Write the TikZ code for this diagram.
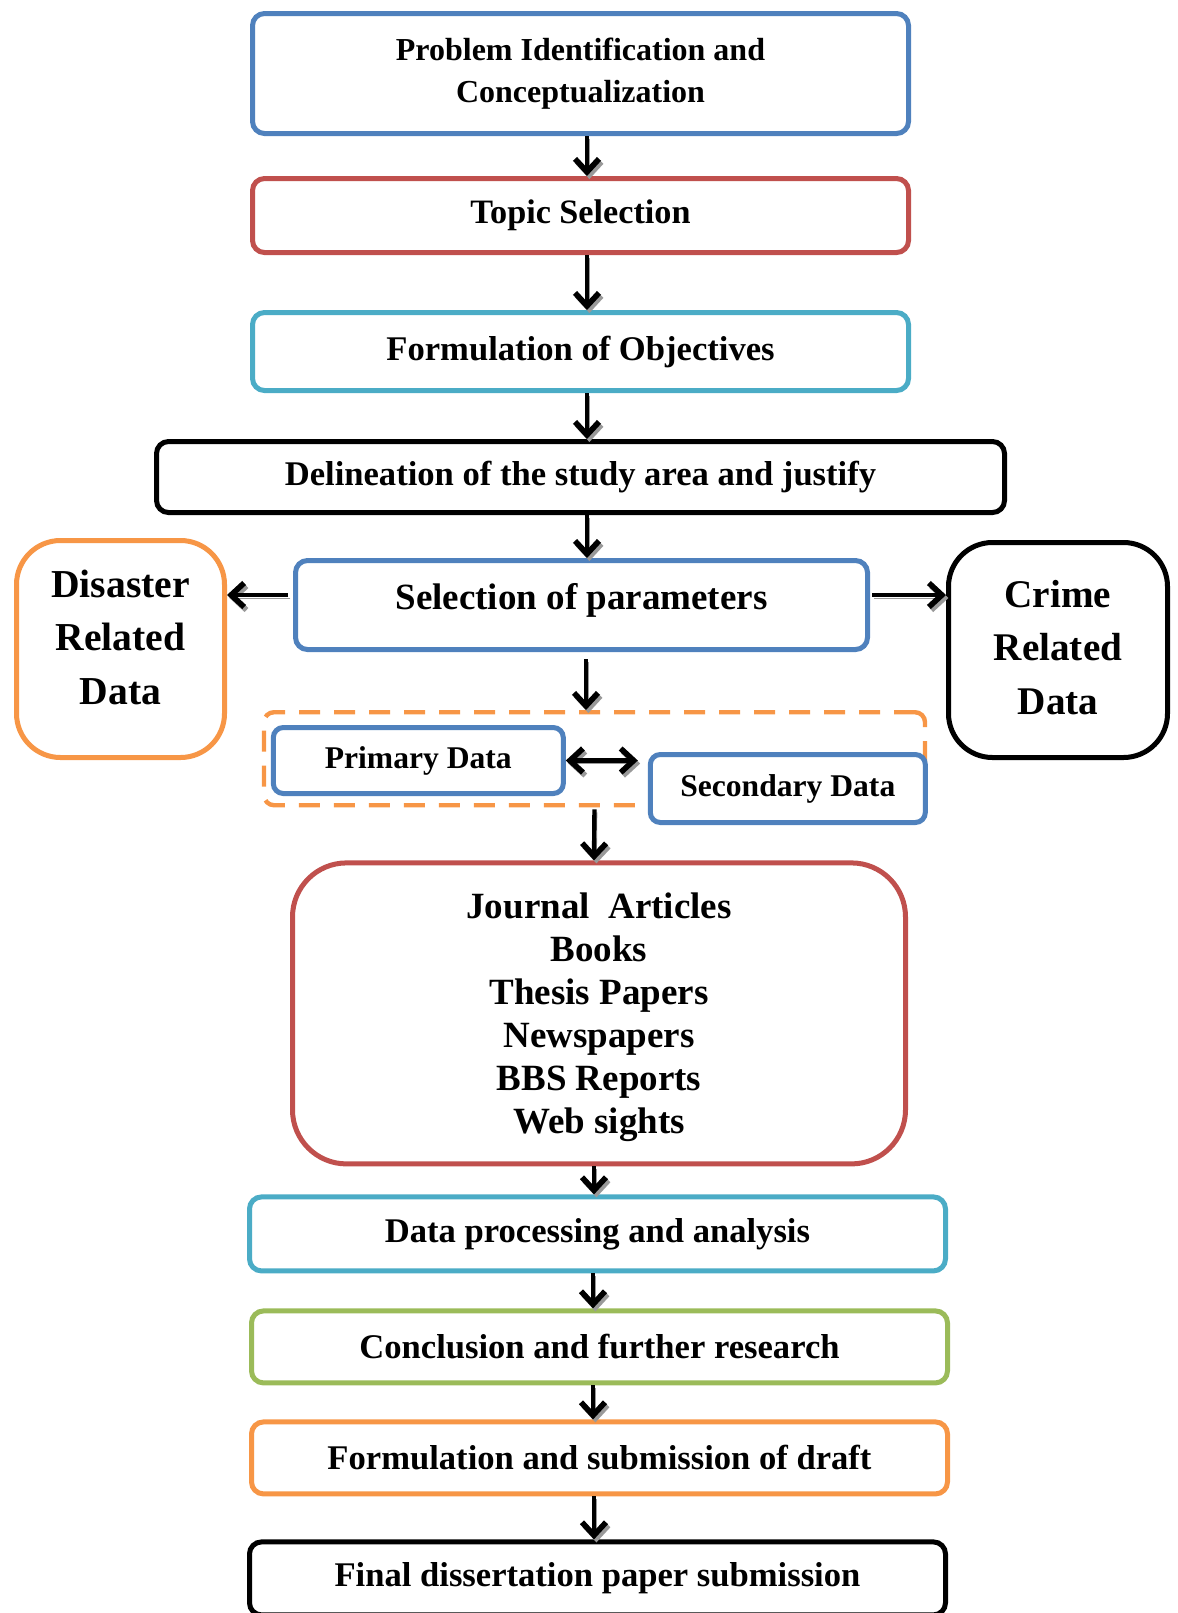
\documentclass[tikz,border=0pt]{standalone}
\usepackage{fontspec}
\setmainfont{Liberation Serif}
\usetikzlibrary{arrows.meta, positioning}
\definecolor{boxBlue}{HTML}{4F81BD}
\definecolor{boxRed}{HTML}{C0504D}
\definecolor{boxCyan}{HTML}{4BACC6}
\definecolor{boxGreen}{HTML}{9BBB59}
\definecolor{boxOrange}{HTML}{F79646}
\tikzset{
    ->, % makes the connectors directed
    >={Straight Barb[length=6.5pt,width=12pt,line width=2.8pt]}, % bold barbed heads
    every node/.style={inner sep=0pt, align=center}, % text sits in the middle of each box
}

\begin{document}
\begin{tikzpicture}[
        x=0.5pt, y=-0.5pt,
        styleBox/.style={draw, line width=2.5pt, rounded corners=6pt, fill=white},
        styleText/.style={font=\bfseries\fontsize{17.3}{21}\selectfont},
        styleWide/.style={minimum width=328pt},
        styleArrow/.style={line width=2.2pt,
            preaction={draw=black!40, transform canvas={shift={(1.2pt,-1.5pt)}}}},
    ]
    \path[use as bounding box, clip] (0,0) rectangle (1178,1613);
    % main column
    \node[styleBox, styleWide, draw=boxBlue, minimum height=60pt,
          font=\bfseries\fontsize{16}{21}\selectfont] (prob) at (580.5,73.5)
          {Problem Identification and\\Conceptualization};
    \node[styleBox, styleWide, styleText, draw=boxRed, minimum height=37pt,
          font=\bfseries\fontsize{17.1}{21}\selectfont,
          below=20pt of prob] (topic) {Topic Selection};
    \node[styleBox, styleWide, styleText, draw=boxCyan, minimum height=39pt,
          below=27.5pt of topic] (obj) {Formulation of Objectives};
    \node[styleBox, styleText, draw=black, minimum width=424pt, minimum height=35.5pt,
          below=23pt of obj] (delin) {Delineation of the study area and justify};
    \node[styleBox, draw=boxBlue, minimum width=286pt, minimum height=44.5pt, text depth=9pt,
          font=\bfseries\fontsize{18.5}{22}\selectfont,
          below=21.5pt of delin, xshift=0.5pt] (sel) {Selection of parameters};
    % side boxes
    \node[styleBox, draw=boxOrange, rounded corners=22pt, minimum width=104pt, minimum height=108.5pt,
          font=\bfseries\fontsize{19.8}{26.7}\selectfont, text depth=12pt,
          left=33pt of sel, yshift=-22pt] (dis) {Disaster\\Related\\Data};
    \node[styleBox, draw=black, rounded corners=22pt, minimum width=109.5pt, minimum height=107.5pt,
          font=\bfseries\fontsize{19.6}{26.7}\selectfont, text depth=3pt,
          right=38pt of sel, yshift=-22.5pt] (crime) {Crime\\Related\\Data};
    % data group
    \node[draw=boxOrange, line width=2.2pt, dash pattern=on 10.5pt off 7pt, rounded corners=5pt,
          minimum width=330.5pt, minimum height=46.5pt,
          below=29pt of sel, xshift=6.5pt] (dash) {};
    \node[styleBox, draw=boxBlue, rounded corners=5pt, minimum width=145pt, minimum height=33pt,
          font=\bfseries\fontsize{15.8}{19}\selectfont,
          below right=7.5pt and 4.5pt of dash.north west] (prim) {Primary Data};
    \node[styleBox, draw=boxBlue, rounded corners=5pt, minimum width=137.5pt, minimum height=34pt,
          font=\bfseries\fontsize{15.8}{19}\selectfont,
          right=41pt of prim, yshift=-14pt] (sec) {Secondary Data};
    \node[styleBox, draw=boxRed, rounded corners=27pt, minimum width=306.5pt, minimum height=150.5pt,
          font=\bfseries\fontsize{18.5}{21.5}\selectfont, text depth=0pt,
          below=26.5pt of dash, xshift=2.25pt] (jour)
          {Journal\ \ Articles\\Books\\Thesis Papers\\Newspapers\\BBS Reports\\Web sights};
    % lower column
    \node[styleBox, styleText, draw=boxCyan, minimum width=348pt, minimum height=37pt,
          below=14pt of jour, xshift=-0.75pt] (proc) {Data processing and analysis};
    \node[styleBox, styleText, draw=boxGreen, minimum width=348pt, minimum height=36pt,
          below=17.5pt of proc, xshift=1pt] (concl) {Conclusion and further research};
    \node[styleBox, styleText, draw=boxOrange, minimum width=348pt, minimum height=36pt,
          below=17pt of concl] (draft) {Formulation and submission of draft};
    \node[styleBox, styleText, draw=black, minimum width=348pt, minimum height=36.5pt,
          below=21.5pt of draft, xshift=-1pt] (final) {Final dissertation paper submission};
    \path
    ([xshift=3.25pt]prob.south) edge[styleArrow] ([xshift=3.25pt]topic.north)
    ([xshift=3.25pt]topic.south) edge[styleArrow] ([xshift=3.25pt]obj.north)
    ([xshift=3.25pt]obj.south) edge[styleArrow] ([xshift=3.25pt]delin.north)
    ([xshift=3.25pt]delin.south) edge[styleArrow] ([xshift=2.75pt]sel.north)
    ([xshift=-2.5pt, yshift=5pt]sel.west) edge[styleArrow] ([yshift=27pt]dis.east)
    ([xshift=1pt, yshift=5pt]sel.east) edge[styleArrow] ([yshift=27.5pt]crime.west)
    ([xshift=2.25pt, yshift=-3.5pt]sel.south) edge[styleArrow] ([xshift=-4.25pt]dash.north)
    (prim.east) edge[styleArrow, <->] ([xshift=36pt]prim.east)
    ([yshift=-1pt]dash.south) edge[styleArrow] ([xshift=-2.5pt]jour.north)
    ([xshift=-2.5pt]jour.south) edge[styleArrow] ([xshift=-1.75pt]proc.north)
    ([xshift=-2.25pt]proc.south) edge[styleArrow] ([xshift=-3.25pt]concl.north)
    ([xshift=-3.25pt]concl.south) edge[styleArrow] ([xshift=-3.25pt]draft.north)
    ([xshift=-2.75pt]draft.south) edge[styleArrow] ([xshift=-1.75pt]final.north);
\end{tikzpicture}
\end{document}
